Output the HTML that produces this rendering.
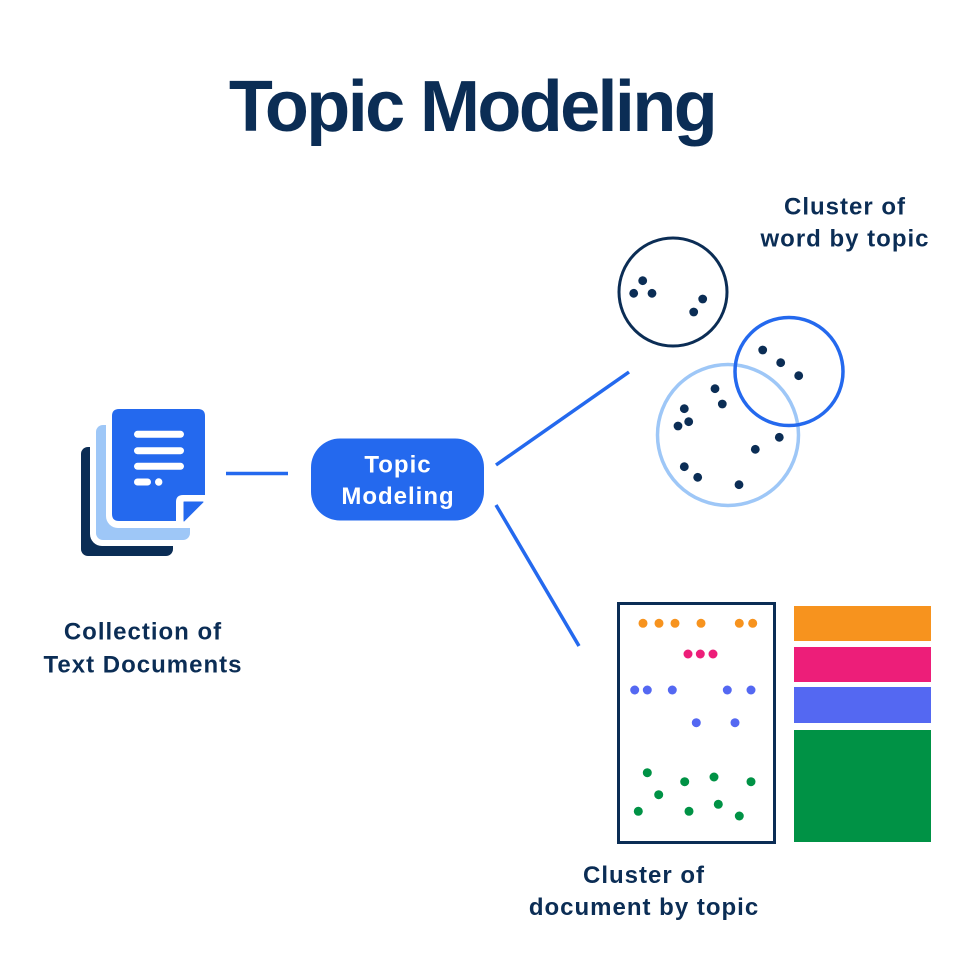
<!DOCTYPE html>
<html>
<head>
<meta charset="utf-8">
<style>
  html, body { margin: 0; padding: 0; background: #ffffff; }
  body { width: 955px; height: 970px; overflow: hidden; }
  svg { display: block; }
  text { font-family: "Liberation Sans", sans-serif; font-weight: bold; }
</style>
</head>
<body>
<svg width="955" height="970" viewBox="0 0 955 970" xmlns="http://www.w3.org/2000/svg">
  <rect x="0" y="0" width="955" height="970" fill="#ffffff"/>

  <!-- Title -->
  <text x="472" y="131" font-size="72" letter-spacing="-2.6" text-anchor="middle" fill="#0B2D55">Topic Modeling</text>

  <!-- Document stack icon -->
  <rect x="81" y="447" width="92" height="109" rx="7" fill="#0B2D55"/>
  <rect x="90" y="419" width="106" height="127" rx="12" fill="#ffffff"/>
  <rect x="96" y="425" width="94" height="115" rx="7" fill="#9EC7F7"/>
  <rect x="106" y="403" width="105" height="125" rx="12" fill="#ffffff"/>
  <path d="M119,409 H198 Q205,409 205,416 V495 H183 Q176,495 176,502 V521 H119 Q112,521 112,514 V416 Q112,409 119,409 Z" fill="#2469EE"/>
  <path d="M184,502 H203 L184,521 Z" fill="#2469EE" stroke="#2469EE" stroke-width="1" stroke-linejoin="round"/>
  <g stroke="#ffffff" stroke-width="7" stroke-linecap="round">
    <line x1="137.5" y1="434.3" x2="180.5" y2="434.3"/>
    <line x1="137.5" y1="450.7" x2="180.5" y2="450.7"/>
    <line x1="137.5" y1="466.3" x2="180.5" y2="466.3"/>
    <line x1="137.5" y1="482" x2="147.5" y2="482"/>
  </g>
  <circle cx="158.7" cy="482" r="3.7" fill="#ffffff"/>

  <!-- Label left -->
  <text x="143" y="639.5" font-size="24" letter-spacing="1" text-anchor="middle" fill="#0B2D55">Collection of</text>
  <text x="143" y="672.5" font-size="24" letter-spacing="1" text-anchor="middle" fill="#0B2D55">Text Documents</text>

  <!-- Connectors -->
  <g stroke="#2469EE" stroke-width="3.5" stroke-linecap="butt">
    <line x1="226" y1="473.5" x2="288" y2="473.5"/>
    <line x1="496" y1="465" x2="629" y2="372"/>
    <line x1="496" y1="505" x2="579" y2="646"/>
  </g>

  <!-- Topic Modeling box -->
  <rect x="311" y="438.5" width="173" height="82" rx="29" fill="#2469EE"/>
  <text x="398" y="472.3" font-size="24" letter-spacing="1" text-anchor="middle" fill="#ffffff">Topic</text>
  <text x="398" y="504" font-size="24" letter-spacing="1" text-anchor="middle" fill="#ffffff">Modeling</text>

  <!-- Cluster of word by topic label -->
  <text x="845" y="214.5" font-size="24" letter-spacing="1" text-anchor="middle" fill="#0B2D55">Cluster of</text>
  <text x="845" y="246.5" font-size="24" letter-spacing="1" text-anchor="middle" fill="#0B2D55">word by topic</text>

  <!-- Word clusters -->
  <circle cx="673" cy="292" r="54" fill="none" stroke="#0B2D55" stroke-width="3"/>
  <circle cx="728" cy="435" r="70.5" fill="none" stroke="#9EC7F7" stroke-width="3.5"/>
  <circle cx="789" cy="371.5" r="54" fill="none" stroke="#2469EE" stroke-width="3.5"/>
  <g fill="#0B2D55">
    <circle cx="642.7" cy="280.7" r="4.4"/>
    <circle cx="633.7" cy="293.3" r="4.4"/>
    <circle cx="652" cy="293.3" r="4.4"/>
    <circle cx="702.7" cy="299" r="4.4"/>
    <circle cx="693.7" cy="312" r="4.4"/>

    <circle cx="762.7" cy="350" r="4.4"/>
    <circle cx="780.7" cy="362.7" r="4.4"/>
    <circle cx="798.7" cy="375.7" r="4.4"/>

    <circle cx="715" cy="388.7" r="4.4"/>
    <circle cx="722.3" cy="404" r="4.4"/>
    <circle cx="684.3" cy="408.7" r="4.4"/>
    <circle cx="688.7" cy="421.7" r="4.4"/>
    <circle cx="678" cy="426" r="4.4"/>
    <circle cx="779.3" cy="437.3" r="4.4"/>
    <circle cx="755.3" cy="449.3" r="4.4"/>
    <circle cx="684.3" cy="466.7" r="4.4"/>
    <circle cx="697.7" cy="477.3" r="4.4"/>
    <circle cx="739" cy="484.7" r="4.4"/>
  </g>

  <!-- Document cluster box -->
  <rect x="618.5" y="603.5" width="156" height="239" fill="none" stroke="#0B2D55" stroke-width="3"/>
  <g fill="#F7931E">
    <circle cx="643" cy="623.3" r="4.5"/>
    <circle cx="659" cy="623.3" r="4.5"/>
    <circle cx="675" cy="623.3" r="4.5"/>
    <circle cx="701" cy="623.3" r="4.5"/>
    <circle cx="739.3" cy="623.3" r="4.5"/>
    <circle cx="752.7" cy="623.3" r="4.5"/>
  </g>
  <g fill="#ED1E79">
    <circle cx="688" cy="654" r="4.5"/>
    <circle cx="700.3" cy="654" r="4.5"/>
    <circle cx="713" cy="654" r="4.5"/>
  </g>
  <g fill="#5468F2">
    <circle cx="634.7" cy="690" r="4.5"/>
    <circle cx="647.3" cy="690" r="4.5"/>
    <circle cx="672.3" cy="690" r="4.5"/>
    <circle cx="727.3" cy="690" r="4.5"/>
    <circle cx="751" cy="690" r="4.5"/>
    <circle cx="696.3" cy="722.7" r="4.5"/>
    <circle cx="735" cy="722.7" r="4.5"/>
  </g>
  <g fill="#009245">
    <circle cx="647.3" cy="772.7" r="4.5"/>
    <circle cx="684.7" cy="781.7" r="4.5"/>
    <circle cx="714" cy="777" r="4.5"/>
    <circle cx="751" cy="781.7" r="4.5"/>
    <circle cx="658.7" cy="794.7" r="4.5"/>
    <circle cx="638.3" cy="811.3" r="4.5"/>
    <circle cx="689" cy="811.3" r="4.5"/>
    <circle cx="718.3" cy="804.3" r="4.5"/>
    <circle cx="739.3" cy="816" r="4.5"/>
  </g>

  <!-- Topic proportion bars -->
  <rect x="794" y="606" width="137" height="35" fill="#F7931E"/>
  <rect x="794" y="647" width="137" height="35" fill="#ED1E79"/>
  <rect x="794" y="687" width="137" height="36" fill="#5468F2"/>
  <rect x="794" y="730" width="137" height="112" fill="#009245"/>

  <!-- Bottom label -->
  <text x="644" y="883" font-size="24" letter-spacing="1" text-anchor="middle" fill="#0B2D55">Cluster of</text>
  <text x="644" y="915" font-size="24" letter-spacing="1" text-anchor="middle" fill="#0B2D55">document by topic</text>
</svg>
</body>
</html>
